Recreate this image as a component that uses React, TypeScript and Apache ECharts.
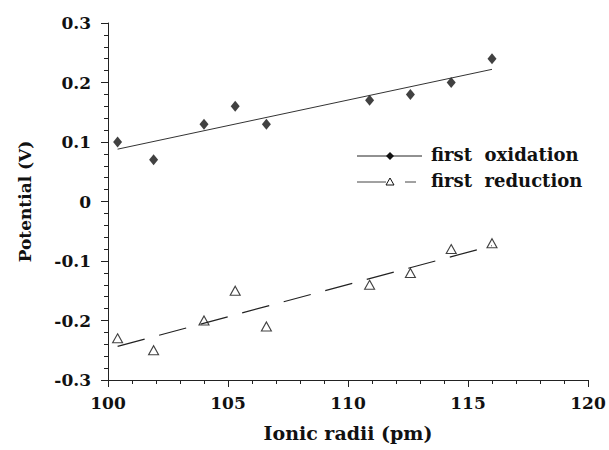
import React, { useEffect, useRef } from "react";
import * as echarts from "echarts";

const radii = [100.4, 101.9, 104.0, 105.3, 106.6, 110.9, 112.6, 114.3, 116.0];
const oxidation = [0.10, 0.07, 0.13, 0.16, 0.13, 0.17, 0.18, 0.20, 0.24];
const reduction = [-0.23, -0.25, -0.20, -0.15, -0.21, -0.14, -0.12, -0.08, -0.07];
const xTicks = [100, 105, 110, 115, 120];
const yTicks = [-0.3, -0.2, -0.1, 0, 0.1, 0.2, 0.3];

function linFit(xs: number[], ys: number[]): number[][] {
  const n = xs.length;
  const mx = xs.reduce((a, b) => a + b, 0) / n;
  const my = ys.reduce((a, b) => a + b, 0) / n;
  let sxy = 0, sxx = 0;
  for (let i = 0; i < n; i++) {
    sxy += (xs[i] - mx) * (ys[i] - my);
    sxx += (xs[i] - mx) * (xs[i] - mx);
  }
  const b = sxy / sxx;
  const a = my - b * mx;
  const x0 = Math.min(...xs), x1 = Math.max(...xs);
  return [[x0, a + b * x0], [x1, a + b * x1]];
}

const FONT = "DejaVu Serif";

export default function App() {
  const ref = useRef<HTMLDivElement>(null);
  useEffect(() => {
    if (!ref.current) return;
    const chart = echarts.init(ref.current, null, { renderer: "svg" });
    const axisCommon = {
      axisLine: { show: true, onZero: false, lineStyle: { color: "#222", width: 1 } },
      axisTick: { show: true, inside: false, length: 7, lineStyle: { color: "#222", width: 1 } },
      minorTick: { show: true, splitNumber: 5, length: 4, lineStyle: { color: "#222", width: 1 } },
      splitLine: { show: false },
      minorSplitLine: { show: false },
      nameLocation: "middle" as const,
    };
    chart.setOption({
      animation: false,
      backgroundColor: "#fff",
      grid: { left: 108, right: 21, top: 23, bottom: 70, containLabel: false },
      xAxis: {
        type: "value",
        min: xTicks[0],
        max: xTicks[xTicks.length - 1],
        interval: 5,
        name: "Ionic radii (pm)",
        nameGap: 43,
        ...axisCommon,
        nameTextStyle: { fontFamily: FONT, fontWeight: "bold", fontSize: 19, color: "#111" },
        axisLabel: {
          margin: 14,
          fontFamily: FONT,
          fontWeight: "bold",
          fontSize: 17,
          color: "#111",
          formatter: (v: number) => String(v),
        },
      },
      yAxis: {
        type: "value",
        min: yTicks[0],
        max: yTicks[yTicks.length - 1],
        interval: 0.1,
        name: "Potential (V)",
        nameGap: 75,
        ...axisCommon,
        nameTextStyle: { fontFamily: FONT, fontWeight: "bold", fontSize: 17, color: "#111" },
        axisLabel: {
          margin: 17,
          fontFamily: FONT,
          fontWeight: "bold",
          fontSize: 17,
          color: "#111",
          formatter: (v: number) => String(+v.toFixed(1)),
        },
      },
      series: [
        {
          name: "first oxidation fit",
          type: "line",
          data: linFit(radii, oxidation),
          showSymbol: false,
          lineStyle: { color: "#333", width: 1 },
          silent: true,
        },
        {
          name: "first reduction fit",
          type: "line",
          data: linFit(radii, reduction),
          showSymbol: false,
          lineStyle: { color: "#222", width: 1.2, type: [28, 15] },
          silent: true,
        },
        {
          name: "first oxidation",
          type: "scatter",
          data: radii.map((x, i) => [x, oxidation[i]]),
          symbol: "diamond",
          symbolSize: [9, 11],
          itemStyle: { color: "#111" },
        },
        {
          name: "first reduction",
          type: "scatter",
          data: radii.map((x, i) => [x, reduction[i]]),
          symbol: "triangle",
          symbolSize: [10, 9],
          itemStyle: { color: "#fff", borderColor: "#111", borderWidth: 1.1 },
        },
      ],
      graphic: [
        { type: "line", shape: { x1: 357, y1: 156, x2: 422, y2: 156 }, style: { stroke: "#222", lineWidth: 1 } },
        { type: "polygon", shape: { points: [[390, 152], [394, 156], [390, 160], [386, 156]] }, style: { fill: "#111" } },
        {
          type: "text", left: 431, top: 145,
          style: { text: "first  oxidation", font: `bold 18px "${FONT}"`, fill: "#111" },
        },
        { type: "line", shape: { x1: 357, y1: 182, x2: 386, y2: 182 }, style: { stroke: "#444", lineWidth: 1 } },
        { type: "polygon", shape: { points: [[390, 178], [394, 185], [386, 185]] }, style: { fill: "#fff", stroke: "#111", lineWidth: 1 } },
        { type: "line", shape: { x1: 405, y1: 182, x2: 416, y2: 182 }, style: { stroke: "#444", lineWidth: 1 } },
        {
          type: "text", left: 431, top: 171,
          style: { text: "first  reduction", font: `bold 18px "${FONT}"`, fill: "#111" },
        },
      ],
    });
    return () => chart.dispose();
  }, []);
  return (
    <div
      ref={ref}
      style={{ position: "absolute", left: 0, top: 0, width: 609, height: 450, background: "#fff" }}
    />
  );
}
